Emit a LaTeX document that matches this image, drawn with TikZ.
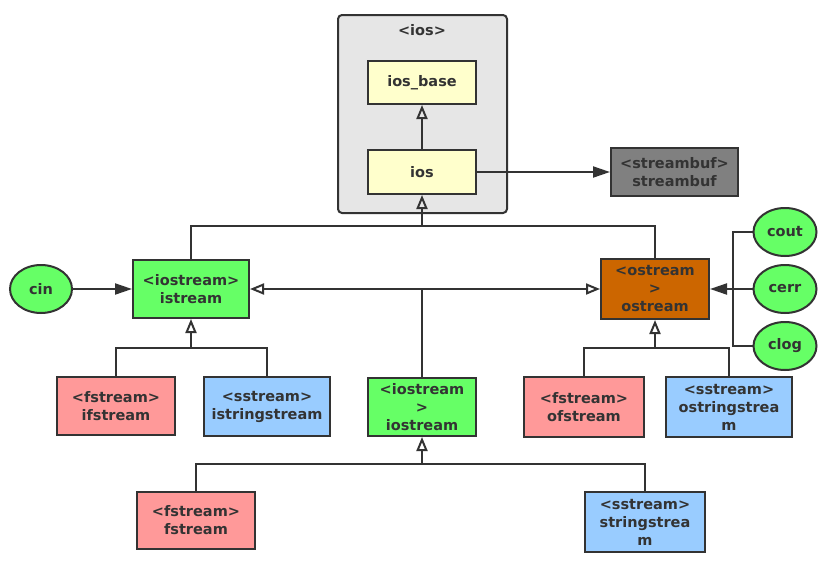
\documentclass[tikz,border=0pt]{standalone}
\usepackage{fontspec}
\setmainfont{DejaVu Sans}
\usetikzlibrary{arrows.meta,shapes.geometric}
\definecolor{ln}{HTML}{333333}
\definecolor{grp}{HTML}{E6E6E6}
\definecolor{yel}{HTML}{FFFFCC}
\definecolor{gry}{HTML}{808080}
\definecolor{grn}{HTML}{66FF66}
\definecolor{org}{HTML}{CC6600}
\definecolor{pnk}{HTML}{FF9999}
\definecolor{blu}{HTML}{99CCFF}
\tikzset{
  box/.style={draw=ln, line width=2pt, rectangle, inner sep=0pt, align=center, text=ln,
    font=\fontsize{14.5}{18}\selectfont\bfseries},
  oval/.style={draw=ln, line width=2pt, ellipse, inner sep=0pt, fill=grn, text=ln,
    font=\fontsize{14.5}{18}\selectfont\bfseries},
  conn/.style={draw=ln, line width=2pt},
  inh/.style={draw=ln, -{Triangle[open, width=11pt, length=14pt]}, line width=2pt},
  assoc/.style={draw=ln, -{Triangle[width=11pt, length=17pt]}, line width=2pt},
}
\begin{document}
\begin{tikzpicture}[x=1pt,y=-1pt]
\useasboundingbox[fill=white] (0,0) rectangle (830,573);
% group
\node[draw=ln, line width=2pt, fill=grp, rounded corners=4pt, minimum width=169pt, minimum height=198pt, inner sep=0pt] (grp) at (422.5,114) {};
\node[text=ln, font=\fontsize{14.5}{18}\selectfont\bfseries] (grplbl) at (422,30) {<ios>};
\node[box, fill=yel, minimum width=108pt, minimum height=43pt] (iosbase) at (422,82.5) {ios\_base};
\node[box, fill=yel, minimum width=108pt, minimum height=44pt] (ios) at (422,172) {ios};
\node[box, fill=gry, minimum width=127pt, minimum height=48pt] (sbuf) at (674.5,172) {<streambuf>\\streambuf};
\node[box, fill=grn, minimum width=116pt, minimum height=58pt] (istream) at (191,289) {<iostream>\\istream};
\node[box, fill=org, minimum width=108pt, minimum height=60pt] (ostream) at (655,289) {<ostream\\>\\ostream};
\node[box, fill=grn, minimum width=108pt, minimum height=58pt] (iostream) at (422,407) {<iostream\\>\\iostream};
\node[box, fill=pnk, minimum width=118pt, minimum height=58pt] (ifs) at (116,406) {<fstream>\\ifstream};
\node[box, fill=blu, minimum width=126pt, minimum height=59pt] (iss) at (267,406.5) {<sstream>\\istringstream};
\node[box, fill=pnk, minimum width=120pt, minimum height=60pt] (ofs) at (584,407) {<fstream>\\ofstream};
\node[box, fill=blu, minimum width=126pt, minimum height=60pt] (oss) at (729,407) {<sstream>\\ostringstrea\\m};
\node[box, fill=pnk, minimum width=118pt, minimum height=57pt] (fs) at (196,520.5) {<fstream>\\fstream};
\node[box, fill=blu, minimum width=120pt, minimum height=60pt] (ss) at (645,522) {<sstream>\\stringstrea\\m};
\node[oval, minimum width=62pt, minimum height=48pt] (cin) at (41,289) {cin};
\node[oval, minimum width=63pt, minimum height=48pt] (cout) at (785,232) {cout};
\node[oval, minimum width=63pt, minimum height=48pt] (cerr) at (785,289) {cerr};
\node[oval, minimum width=63pt, minimum height=48pt] (clog) at (785,346) {clog};
% connectors
\draw[inh] (ios) -- (iosbase);
\draw[assoc] (ios) -- (sbuf);
\coordinate (j1) at (422,226);
\draw[conn] (istream.north) |- (j1) -| (ostream.north);
\draw[inh] (j1) -- (ios.south);
\draw[assoc] (cin) -- (istream);
\coordinate (j2) at (422,289);
\draw[conn] (iostream.north) -- (j2);
\draw[inh] (j2) -- (istream.east);
\draw[inh] (j2) -- (ostream.west);
\coordinate (j3) at (733,289);
\draw[conn] (cout.west) -| (j3);
\draw[conn] (clog.west) -| (j3);
\draw[assoc] (cerr.west) -- (ostream.east);
\coordinate (j4) at (191,348);
\draw[conn] (ifs.north) |- (j4) -| (iss.north);
\draw[inh] (j4) -- (istream.south);
\coordinate (j5) at (655,348);
\draw[conn] (ofs.north) |- (j5) -| (oss.north);
\draw[inh] (j5) -- (ostream.south);
\coordinate (j6) at (422,464);
\draw[conn] (fs.north) |- (j6) -| (ss.north);
\draw[inh] (j6) -- (iostream.south);
\end{tikzpicture}
\end{document}
